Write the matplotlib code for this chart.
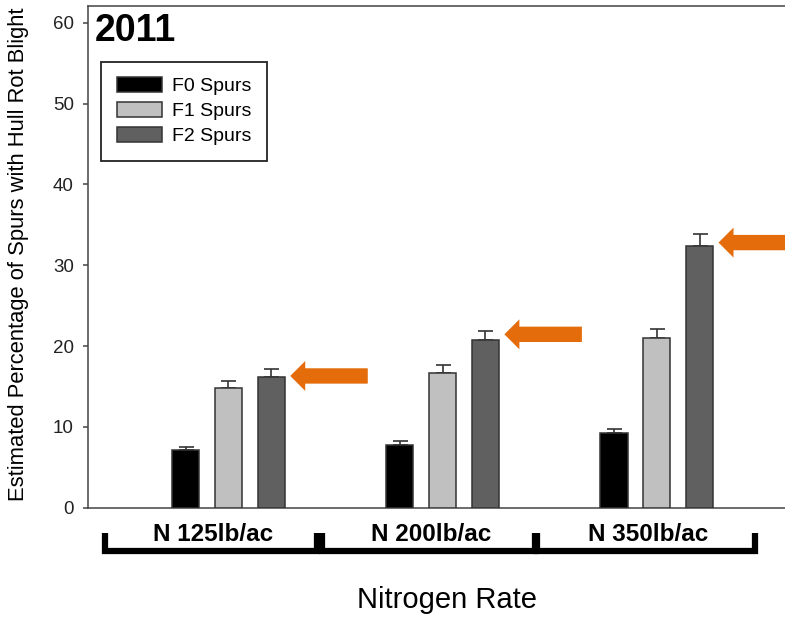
import matplotlib
matplotlib.use("Agg")
import matplotlib.pyplot as plt
import matplotlib.transforms as mtransforms
from matplotlib.patches import FancyArrow
import numpy as np

plt.rcParams['font.family'] = ['Liberation Sans', 'DejaVu Sans']

# ---- data ----
groups = ["N 125lb/ac", "N 200lb/ac", "N 350lb/ac"]
series = ["F0 Spurs", "F1 Spurs", "F2 Spurs"]
f0_vals = [7.1, 7.8, 9.3]
f1_vals = [14.8, 16.7, 21.0]
f2_vals = [16.2, 20.8, 32.4]
f0_err = [0.45, 0.41, 0.49]
f1_err = [0.87, 0.91, 1.06]
f2_err = [0.90, 1.07, 1.44]
arrow_y = [16.3, 21.45, 32.8]
yticks = [0, 10, 20, 30, 40, 50, 60]
title_text = "2011"
ylabel = "Estimated Percentage of Spurs with Hull Rot Blight"
xlabel = "Nitrogen Rate"

colors = ["#000000", "#c0c0c0", "#606060"]
edge = "#333333"
orange = "#e46c0a"

W, H = 785, 619
fig = plt.figure(figsize=(W / 100, H / 100), dpi=100)

ax_left_px, ax_top_px, ax_bottom_px, ax_right_px = 88, 6, 507.7, 797.2
ax = fig.add_axes([ax_left_px / W, 1 - ax_bottom_px / H,
                   (ax_right_px - ax_left_px) / W, (ax_bottom_px - ax_top_px) / H])

x = np.arange(len(groups))
offs = [-0.2, 0.0, 0.2]
bw = 0.127
vals = [f0_vals, f1_vals, f2_vals]
errs = [f0_err, f1_err, f2_err]
for i in range(3):
    xs = x + offs[i]
    ax.errorbar(xs, vals[i], yerr=[np.zeros(3), errs[i]], fmt='none',
                ecolor=edge, elinewidth=1.2, capsize=5.4, capthick=1.2, zorder=2)
    ax.bar(xs, vals[i], width=bw, color=colors[i], edgecolor=edge,
           linewidth=1.1, label=series[i], zorder=3)

ax.set_xlim(-0.656, 2.656)
ax.set_ylim(0, 62.07)
ax.set_yticks(yticks)
ax.set_xticks([])
for s in ["left", "bottom", "top"]:
    ax.spines[s].set_color("#444444")
    ax.spines[s].set_linewidth(1.1)
ax.spines["right"].set_visible(False)
ax.tick_params(axis='y', direction='out', length=3.6, width=1.1, color="#444444",
               labelsize=13.5, labelcolor="#222222", pad=6.5)

# arrows pointing at F2 bars
for i in range(3):
    tip = x[i] + offs[2] + bw / 2 + 0.025
    tail = tip + 0.362
    ax.add_patch(FancyArrow(tail, arrow_y[i], tip - tail, 0, width=1.9,
                            head_width=3.7, head_length=0.07,
                            length_includes_head=True, color=orange,
                            linewidth=0, clip_on=False, zorder=4))

# title
ax.text(95 / W, 1 - 31 / H, title_text, transform=fig.transFigure,
        fontsize=27, fontweight='bold', va='center', ha='left')

# legend
leg = ax.legend(loc='upper left', bbox_to_anchor=(101 / W, 1 - 61.7 / H),
                bbox_transform=fig.transFigure, borderaxespad=0,
                fontsize=14, handlelength=2.32, handleheight=0.77,
                handletextpad=0.55, borderpad=0.8, labelspacing=0.36,
                fancybox=False, framealpha=1)
leg.get_frame().set_edgecolor("#222222")
leg.get_frame().set_linewidth(1.3)

# brackets under groups
trans = mtransforms.blended_transform_factory(ax.transData, ax.transAxes)
br_left = [-0.577, 0.437, 1.441]
br_right = [0.413, 1.432, 2.459]
y_base = -0.0863
y_top = -0.0504
for i in range(3):
    ax.plot([br_left[i], br_left[i], br_right[i], br_right[i]],
            [y_top, y_base, y_base, y_top], transform=trans, color="black",
            lw=4.5, solid_joinstyle='miter', solid_capstyle='butt', clip_on=False)
    cx = (br_left[i] + br_right[i]) / 2 + 0.01
    ax.text(cx, -0.0534, groups[i], transform=trans, ha='center', va='center',
            fontsize=17.5, fontweight='bold',
            bbox=dict(facecolor='white', edgecolor='none', pad=0.5))

fig.text(447 / W, 1 - 600 / H, xlabel, ha='center', va='center', fontsize=21)
fig.text(19 / W, 1 - 254 / H, ylabel, ha='center', va='center', rotation=90,
         fontsize=15.8)

fig.savefig("out.png", dpi=100)
